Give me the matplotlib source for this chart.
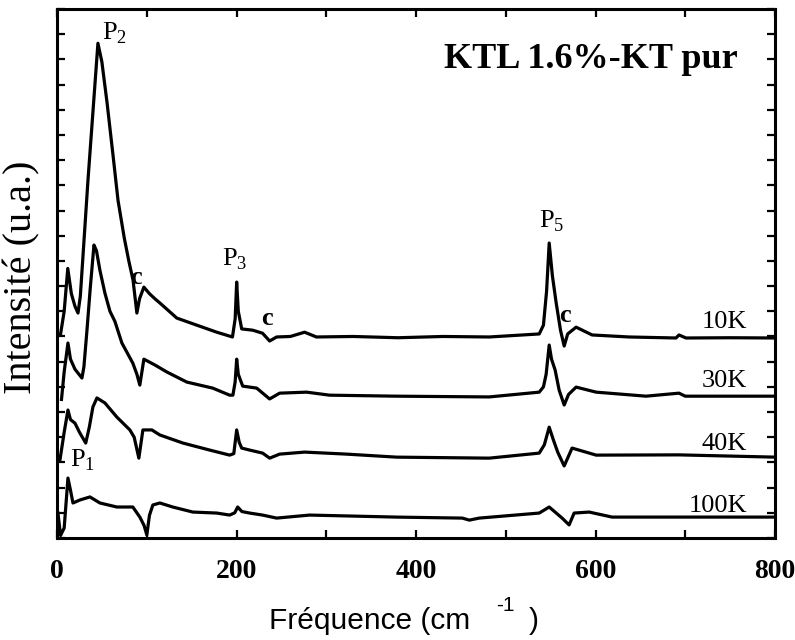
import matplotlib
matplotlib.use("Agg")
import matplotlib.pyplot as plt
from matplotlib.ticker import MultipleLocator, FuncFormatter

# ---- data (x: cm^-1, y: arbitrary units, curves offset) ----
x_10K = [4, 8, 12, 16, 20, 23.4, 26, 34.5, 45.6, 50, 55.7, 62.4, 68, 75, 80, 84.7, 89,
         92, 96.8, 103, 109, 114.6, 133.5, 155.7, 178, 195.5, 198.5, 200.2, 202, 205.8,
         218, 229, 236.9, 244.7, 260, 275.9, 289, 330, 380, 430, 481.6, 537.3, 542,
         545.5, 548.4, 552, 556.2, 561, 565.1, 569, 578.4, 596.2, 637.4, 689.7, 693,
         700.8, 750, 800]
y_10K = [8.1, 9.0, 10.7, 9.7, 9.2, 8.93, 9.6, 14.2, 19.64, 18.9, 17.3, 15.2, 13.4, 11.9,
         11.0, 10.24, 8.93, 9.5, 9.96, 9.7, 9.5, 9.33, 8.73, 8.45, 8.17, 7.98, 8.7, 10.16,
         9.0, 8.3, 8.25, 8.13, 7.82, 7.98, 8.0, 8.17, 7.98, 8.0, 7.95, 8.0, 7.98, 8.1,
         8.45, 9.8, 11.71, 10.4, 9.33, 8.25, 7.62, 8.1, 8.37, 8.06, 7.98, 7.94, 8.06,
         7.94, 7.95, 7.94]

x_30K = [5, 8, 12.2, 15, 20, 27.8, 30, 33.4, 37, 41.2, 44, 47.8, 53.4, 59, 64.5, 72.3,
         84.5, 89, 92.3, 96.8, 109, 122.4, 144.6, 173.5, 192.4, 196, 198.5, 200.2, 202,
         206.9, 222.5, 236.9, 248.1, 278.1, 303.7, 378.2, 481.6, 537.3, 542, 545, 548.4,
         551, 555, 559.5, 565.1, 570, 578.4, 600.7, 656.3, 693, 700, 800]
y_30K = [5.5, 6.6, 7.74, 7.1, 6.7, 6.35, 6.8, 8.25, 9.9, 11.63, 11.4, 10.63, 9.72, 9.0,
         8.6, 7.74, 6.94, 6.5, 6.07, 7.10, 6.87, 6.59, 6.19, 5.95, 5.67, 5.67, 6.2, 7.10,
         6.5, 6.03, 5.95, 5.52, 5.75, 5.79, 5.67, 5.63, 5.60, 5.79, 6.0, 6.5, 7.66, 7.1,
         6.67, 5.87, 5.28, 5.7, 5.99, 5.79, 5.63, 5.75, 5.63, 5.63]

x_40K = [3.3, 8, 12.2, 15, 20, 25, 32, 36, 40, 44.5, 53.4, 66.7, 81.2, 86, 91.2, 95.7,
         105.7, 114.6, 140.2, 170.2, 192.4, 197, 200.2, 203, 205.8, 214.7, 229.1, 236.9,
         248.1, 275.9, 322.6, 378.2, 481.6, 537.3, 543, 548.4, 553, 558, 565.1, 573.9,
         600.7, 693, 800]
y_40K = [3.1, 4.2, 5.08, 4.7, 4.56, 4.2, 3.77, 4.4, 5.2, 5.56, 5.36, 4.80, 4.29, 4.0,
         3.17, 4.29, 4.29, 4.09, 3.77, 3.49, 3.29, 3.35, 4.29, 3.8, 3.57, 3.49, 3.37,
         3.17, 3.33, 3.41, 3.33, 3.21, 3.17, 3.37, 3.7, 4.40, 3.9, 3.4, 2.86, 3.57, 3.29,
         3.3, 3.21]

x_100K = [1, 4, 8, 12.2, 15, 17.8, 25.6, 36.7, 47.8, 66.7, 84.5, 92.3, 97, 100.1, 103,
          106.8, 114.6, 129, 151.3, 178, 192.4, 198, 201.3, 206, 214.7, 229.1, 244.7,
          281.4, 378.2, 451.6, 459.4, 470.5, 537.3, 548.4, 562.8, 570.6, 576.2, 592.9,
          618.5, 693, 800]
y_100K = [1.0, 0.1, 0.4, 2.38, 1.9, 1.39, 1.51, 1.63, 1.39, 1.23, 1.23, 0.83, 0.5, 0.12,
          0.9, 1.31, 1.39, 1.23, 1.03, 0.99, 0.91, 1.0, 1.23, 1.05, 0.99, 0.91, 0.79,
          0.91, 0.83, 0.79, 0.71, 0.79, 0.99, 1.23, 0.79, 0.52, 0.99, 1.03, 0.83, 0.83,
          0.83]

temp_labels = ["10K", "30K", "40K", "100K"]
temp_label_y = [8.33, 5.99, 3.49, 1.03]
x_ticks = [0, 100, 200, 300, 400, 500, 600, 700, 800]

serif = "Liberation Serif"
sans = "Liberation Sans"

fig = plt.figure(figsize=(7.95, 6.4), dpi=100)
ax = fig.add_axes([57 / 795, 102 / 640, 718 / 795, 529 / 640])

lw = 2.3
for xs, ys in [(x_10K, y_10K), (x_30K, y_30K), (x_40K, y_40K), (x_100K, y_100K)]:
    ax.plot(xs, ys, color="black", lw=lw, solid_joinstyle="round")

ax.set_xlim(0, 800)
ax.set_ylim(0, 21)
ax.set_xticks(x_ticks)
ax.xaxis.set_major_formatter(FuncFormatter(lambda v, p: f"{int(v)}" if int(v) % 200 == 0 else ""))
ax.yaxis.set_major_locator(MultipleLocator(1))
ax.set_yticklabels([])
ax.tick_params(direction="in", length=6, width=1.6, top=True, right=True,
               labelleft=False, pad=15)
for lab in ax.get_xticklabels():
    lab.set_fontfamily(serif)
    lab.set_fontweight("bold")
    lab.set_fontsize(20)
for s in ax.spines.values():
    s.set_linewidth(2.2)

# peak annotations
ann_kw = dict(fontfamily=serif, fontsize=19, ha="left", va="baseline")
ax.text(50, 19.8, r"P$_\mathregular{2}$", **ann_kw)
ax.text(183.5, 10.83, r"P$_\mathregular{3}$", **ann_kw)
ax.text(537, 12.34, r"P$_\mathregular{5}$", **ann_kw)
ax.text(14.5, 2.82, r"P$_\mathregular{1}$", **ann_kw)
ax.text(81.5, 10.1, "c", fontfamily=serif, fontsize=19, fontweight="bold", ha="left", va="baseline")
ax.text(227, 8.45, "c", fontfamily=serif, fontsize=19, fontweight="bold", ha="left", va="baseline")
ax.text(559.5, 8.57, "c", fontfamily=serif, fontsize=19, fontweight="bold", ha="left", va="baseline")

for lab, yy in zip(temp_labels, temp_label_y):
    ax.text(769, yy, lab, fontfamily=serif, fontsize=19, ha="right", va="baseline")

ax.text(0.948, 0.888, "KTL 1.6%-KT pur", transform=ax.transAxes, fontfamily=serif,
        fontsize=26, fontweight="bold", ha="right", va="baseline")

fig.text(0.028, 0.567, "Intensité (u.a.)", rotation=90, fontfamily=serif, fontsize=29,
         ha="center", va="center")
# x-axis title, with the "-1" exponent set as raised small text
fig.text(470 / 795, 0.017, "Fréquence (cm", fontfamily=sans, fontsize=21.5,
         ha="right", va="baseline")
fig.text(496 / 795, 0.045, "-1", fontfamily=sans, fontsize=15,
         ha="left", va="baseline")
fig.text(529 / 795, 0.017, ")", fontfamily=sans, fontsize=21.5,
         ha="left", va="baseline")

fig.savefig("out.png", dpi=100)
